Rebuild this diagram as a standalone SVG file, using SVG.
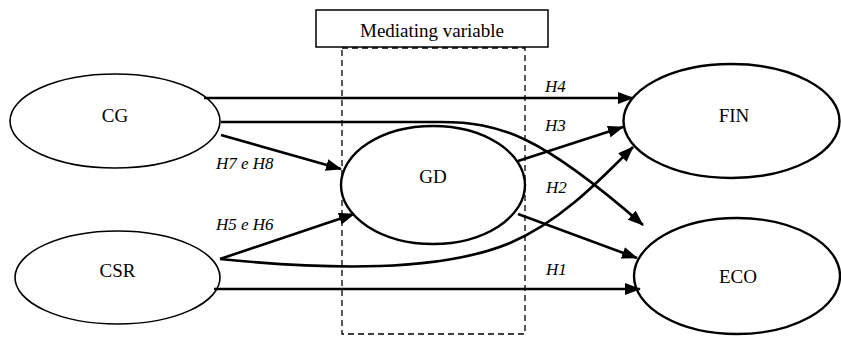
<svg xmlns="http://www.w3.org/2000/svg" width="841" height="337" viewBox="0 0 841 337">
<style>
.node{fill:#fff;stroke:#000}
.t{font-family:'Liberation Serif','DejaVu Serif',serif;font-size:19px;fill:#000;text-anchor:middle}
.lbl{font-family:'Liberation Serif','DejaVu Serif',serif;font-size:17px;font-style:italic;fill:#000}
.c{fill:none;stroke:#000;stroke-width:2.6}
.a{marker-end:url(#ah)}
</style>
<defs>
<marker id="ah" markerUnits="userSpaceOnUse" markerWidth="16" markerHeight="12" viewBox="0 0 16 12" refX="15" refY="6" orient="auto">
<path d="M0,0 L16,6 L0,12 Z" fill="#000"/>
</marker>
</defs>
<g id="mediating">
<rect x="342" y="48" width="183" height="286" fill="none" stroke="#000" stroke-width="1.3" stroke-dasharray="6,4"/>
<rect x="316" y="10" width="232" height="37" fill="#fff" stroke="#000" stroke-width="1.5"/>
<text class="t" x="432" y="37">Mediating variable</text>
</g>
<g id="CG"><ellipse class="node" cx="115" cy="121" rx="105" ry="47" stroke-width="1.6"/><text class="t" x="115" y="122">CG</text></g>
<g id="CSR"><ellipse class="node" cx="117.5" cy="277.5" rx="102.5" ry="46.5" stroke-width="1.6"/><text class="t" x="117.5" y="277">CSR</text></g>
<g id="GD"><ellipse class="node" cx="433" cy="185" rx="92" ry="59" stroke-width="2.4"/><text class="t" x="433" y="183">GD</text></g>
<g id="FIN"><ellipse class="node" cx="731.5" cy="121" rx="108" ry="57" stroke-width="2.4"/><text class="t" x="734" y="122">FIN</text></g>
<g id="ECO"><ellipse class="node" cx="737" cy="276" rx="103" ry="58" stroke-width="2.4"/><text class="t" x="738" y="283">ECO</text></g>
<g id="connectors">
<path class="c a" d="M204,98 L633,98"/>
<path class="c a" d="M221,122 L440,122 C500,122 540,135 643,225"/>
<path class="c a" d="M221,135 L341,169"/>
<path class="c a" d="M220,259 L354,214"/>
<path class="c a" d="M220,259 C330,270 440,272 510,243 C560,222 600,180 633,147"/>
<path class="c a" d="M518,161 L623,127"/>
<path class="c a" d="M518,214 L637,258"/>
<path class="c a" d="M214,289 L640,289"/>
</g>
<g id="labels">
<text class="lbl" x="545" y="92">H4</text>
<text class="lbl" x="545" y="131">H3</text>
<text class="lbl" x="546" y="193">H2</text>
<text class="lbl" x="546" y="275">H1</text>
<text class="lbl" x="216" y="169">H7 e H8</text>
<text class="lbl" x="216" y="230">H5 e H6</text>
</g>
</svg>
